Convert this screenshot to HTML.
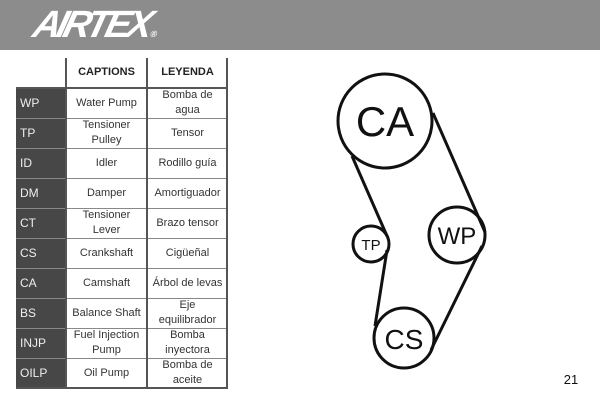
<!DOCTYPE html>
<html><head><style>
body{margin:0;width:600px;height:400px;background:#fff;position:relative;overflow:hidden;font-family:"Liberation Sans",sans-serif}
.bar{position:absolute;left:0;top:0;width:600px;height:50px;background:#8c8c8c}
.logo{position:absolute;left:34px;top:4px;color:#fff;font:italic bold 38px "Liberation Sans",sans-serif;letter-spacing:-4px;transform:skewX(-14deg)}
.logo small{font-size:9px;font-style:normal;letter-spacing:0;margin-left:4px}
.hline{position:absolute;left:16px;width:212px;height:1px;background:#888}
.cell{position:absolute;display:flex;align-items:center;justify-content:center;text-align:center;font-size:11px;line-height:15px;color:#333}
.code{position:absolute;left:16px;width:50px;background:#474747;color:#eee;font-size:12px;display:flex;align-items:center;padding-left:4px;box-sizing:border-box}
.vl{position:absolute;width:2px;background:#555}
</style></head><body>
<div class="bar"></div>
<div class="logo">AIRTEX<small>®</small></div>
<div class="cell" style="left:66px;top:58px;width:81px;height:29px;font-weight:bold;color:#222">CAPTIONS</div>
<div class="cell" style="left:147px;top:58px;width:81px;height:29px;font-weight:bold;color:#222">LEYENDA</div>
<div id="rows"></div>
<div class="vl" style="left:65px;top:58px;height:330px"></div>
<div class="vl" style="left:146px;top:58px;height:330px"></div>
<div class="vl" style="left:226px;top:58px;height:330px"></div>
<div class="hline" style="top:87px;background:#555;height:2px"></div>
<div class="hline" style="top:387px;background:#555;height:2px"></div>
<script>
var d=[["WP","Water Pump","Bomba de<br>agua"],["TP","Tensioner<br>Pulley","Tensor"],["ID","Idler","Rodillo guía"],["DM","Damper","Amortiguador"],["CT","Tensioner<br>Lever","Brazo tensor"],["CS","Crankshaft","Cigüeñal"],["CA","Camshaft","Árbol de levas"],["BS","Balance Shaft","Eje<br>equilibrador"],["INJP","Fuel Injection<br>Pump","Bomba<br>inyectora"],["OILP","Oil Pump","Bomba de<br>aceite"]];
var h="";d.forEach(function(r,i){var t=88+i*30;
h+='<div class="code" style="top:'+t+'px;height:30px">'+r[0]+'</div>';
h+='<div class="cell" style="left:66px;top:'+t+'px;width:81px;height:30px">'+r[1]+'</div>';
h+='<div class="cell" style="left:147px;top:'+t+'px;width:81px;height:30px">'+r[2]+'</div>';
if(i>0)h+='<div class="hline" style="top:'+t+'px"></div>';});
document.getElementById("rows").innerHTML=h;
</script>
<svg style="position:absolute;left:0;top:0" width="600" height="400">
<g fill="none" stroke="#111" stroke-width="3">
<circle cx="385" cy="121" r="47"/>
<circle cx="371" cy="244" r="18"/>
<circle cx="457" cy="235" r="28"/>
<circle cx="404" cy="338" r="30"/>
<line x1="352" y1="156" x2="387" y2="236"/>
<line x1="387" y1="250" x2="375" y2="326"/>
<line x1="433" y1="113" x2="485" y2="232"/>
<line x1="482" y1="246" x2="431" y2="350"/>
</g>
<g font-family="Liberation Sans,sans-serif" fill="#111" text-anchor="middle">
<text x="385" y="136" font-size="42">CA</text>
<text x="371" y="250" font-size="15">TP</text>
<text x="457" y="244" font-size="24">WP</text>
<text x="404" y="349" font-size="28">CS</text>
<text x="571" y="384" font-size="13">21</text>
</g>
</svg>
</body></html>
